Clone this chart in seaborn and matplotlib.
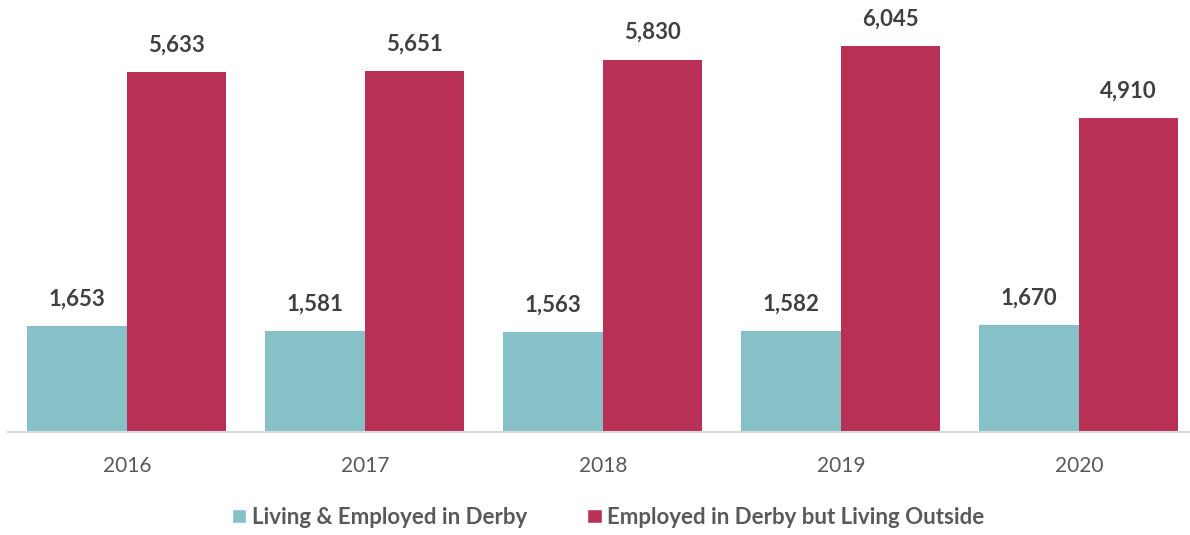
import pandas as pd
import seaborn as sns
import matplotlib.pyplot as plt
from matplotlib.patches import Patch

# values
years = ["2016", "2017", "2018", "2019", "2020"]
living_employed = [1653, 1581, 1563, 1582, 1670]
employed_outside = [5633, 5651, 5830, 6045, 4910]
series_names = ["Living & Employed in Derby", "Employed in Derby but Living Outside"]
colors = ["#86C1C8", "#B83055"]

df = pd.DataFrame({
    "Year": years * 2,
    "Value": living_employed + employed_outside,
    "Series": [series_names[0]] * len(years) + [series_names[1]] * len(years),
})

sns.set_style("white")
plt.rcParams["font.family"] = ["Lato", "DejaVu Sans"]

fig = plt.figure(figsize=(11.9, 5.35), dpi=100)
ax = fig.add_axes([0.0067, 0.1925, 1.0, 0.7925])

sns.barplot(data=df, x="Year", y="Value", hue="Series", palette=colors,
            width=0.836, gap=0, saturation=1, linewidth=0, ax=ax, legend=False)

for cont in ax.containers:
    ax.bar_label(cont, labels=[f"{int(v):,}" for v in cont.datavalues],
                 padding=12, fontsize=16, fontweight="bold", color="#404040")

ax.set_xlim(-0.5, 4.5)
ax.set_ylim(0, 6640)
ax.set_yticks([])
ax.set_xlabel("")
ax.set_ylabel("")
for s in ["top", "right", "left"]:
    ax.spines[s].set_visible(False)
ax.spines["bottom"].set_color("#D9D9D9")
ax.spines["bottom"].set_linewidth(1.5)
ax.tick_params(axis="x", length=0, labelsize=15, labelcolor="#595959", pad=17)

handles = [Patch(facecolor=c, label=n) for c, n in zip(colors, series_names)]
leg = fig.legend(handles=handles, loc="center", bbox_to_anchor=(0.511, 0.033), ncol=2,
                 frameon=False, handlelength=0.65, handleheight=0.65, handletextpad=0.25,
                 columnspacing=2.7, prop={"size": 16, "weight": "bold"})
for t in leg.get_texts():
    t.set_color("#595959")

fig.savefig("out.png", dpi=100)
